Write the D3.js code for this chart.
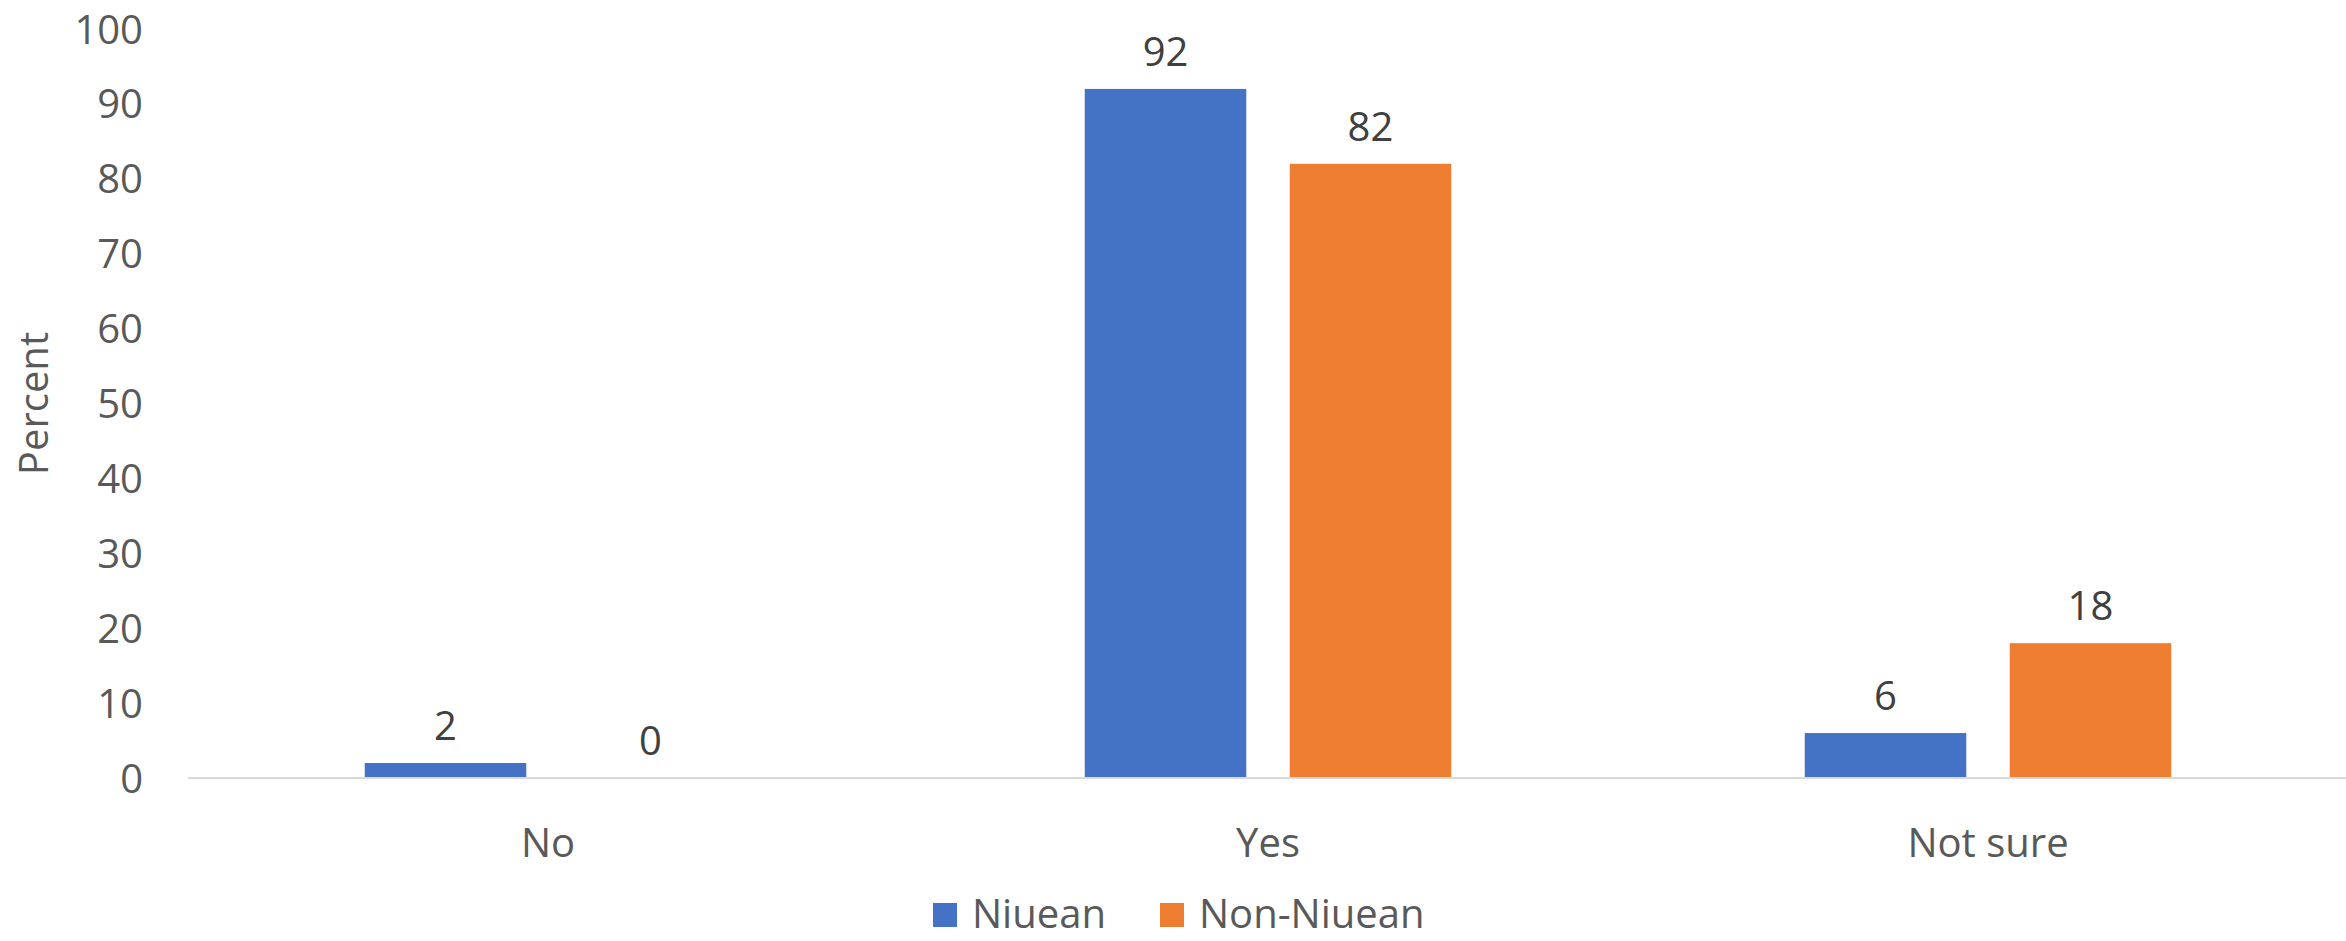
<!DOCTYPE html>
<html>
<head>
<meta charset="utf-8">
<script src="https://cdn.jsdelivr.net/npm/d3@7"></script>
<style>
  body { margin: 0; background: #fff; }
  svg { font-family: "Open Sans", sans-serif; }
  .tick text { fill: #595959; font-size: 40px; }
  .label { fill: #595959; font-size: 40px; }
  .value { fill: #404040; font-size: 40px; }
</style>
</head>
<body>
<svg id="chart"></svg>
<script>
var categories = ["No", "Yes", "Not sure"]
var seriesNames = ["Niuean", "Non-Niuean"]
var niuean = [2, 92, 6]
var nonNiuean = [0, 82, 18]
var yTicks = [0, 10, 20, 30, 40, 50, 60, 70, 80, 90, 100]
var colors = ["#4472C4", "#ED7D31"]

var screen = {width: 2346, height: 941}
var plot = {left: 188, right: 2348, top: 29, bottom: 778}

var svg = d3.select("#chart")
    .attr("width", screen.width)
    .attr("height", screen.height)

var rows = categories.map(function(c, i) {
    return {cat: c, values: [niuean[i], nonNiuean[i]]}
})

var x0 = d3.scaleBand()
    .domain(categories)
    .range([plot.left, plot.right])

var x1 = d3.scaleBand()
    .domain(seriesNames)
    .range([176.75, x0.bandwidth() - 176.75])
    .paddingInner(0.212)

var yScale = d3.scaleLinear()
    .domain([0, 100])
    .range([plot.bottom, plot.top])

// y axis labels
var yAxis = d3.axisLeft(yScale).tickValues(yTicks).tickSize(0).tickPadding(0)
var yg = svg.append("g")
    .attr("transform", "translate(143,0)")
    .call(yAxis)
    .attr("font-family", null)
    .attr("font-size", null)
yg.select(".domain").remove()
yg.selectAll(".tick text").attr("dy", "0.35em")

// x axis labels
var xAxis = d3.axisBottom(x0).tickSize(0).tickPadding(0)
var xg = svg.append("g")
    .attr("transform", "translate(0," + plot.bottom + ")")
    .call(xAxis)
    .attr("font-family", null)
    .attr("font-size", null)
xg.select(".domain").remove()
xg.selectAll(".tick text").attr("y", 79).attr("dy", null)

// bars
var groups = svg.append("g").selectAll("g")
    .data(rows)
    .enter()
    .append("g")
    .attr("transform", function(d) { return "translate(" + x0(d.cat) + ",0)" })

groups.selectAll("rect")
    .data(function(d) { return d.values.map(function(v, i) { return {name: seriesNames[i], v: v, i: i} }) })
    .enter()
    .append("rect")
    .attr("x", function(d) { return x1(d.name) })
    .attr("width", x1.bandwidth())
    .attr("y", function(d) { return yScale(d.v) })
    .attr("height", function(d) { return plot.bottom - yScale(d.v) })
    .attr("fill", function(d) { return colors[d.i] })

groups.selectAll("text")
    .data(function(d) { return d.values.map(function(v, i) { return {name: seriesNames[i], v: v} }) })
    .enter()
    .append("text")
    .classed("value", true)
    .attr("text-anchor", "middle")
    .attr("x", function(d) { return x1(d.name) + x1.bandwidth() / 2 })
    .attr("y", function(d) { return yScale(d.v) - 23 })
    .text(function(d) { return d.v })

// baseline
svg.append("line")
    .attr("x1", plot.left).attr("x2", plot.right)
    .attr("y1", plot.bottom).attr("y2", plot.bottom)
    .attr("stroke", "#D9D9D9")
    .attr("stroke-width", 2)

// axis title
svg.append("text")
    .classed("label", true)
    .attr("text-anchor", "middle")
    .attr("transform", "translate(34," + ((plot.top + plot.bottom) / 2) + ") rotate(-90)")
    .attr("dy", "0.35em")
    .text("Percent")

// legend
var legendX = [933, 1160]
var legend = svg.append("g").selectAll("g")
    .data(seriesNames)
    .enter()
    .append("g")
    .attr("transform", function(d, i) { return "translate(" + legendX[i] + ",903)" })
legend.append("rect")
    .attr("width", 24).attr("height", 24)
    .attr("fill", function(d, i) { return colors[i] })
legend.append("text")
    .classed("label", true)
    .attr("x", 39)
    .attr("y", 25)
    .text(function(d) { return d })
</script>
</body>
</html>
